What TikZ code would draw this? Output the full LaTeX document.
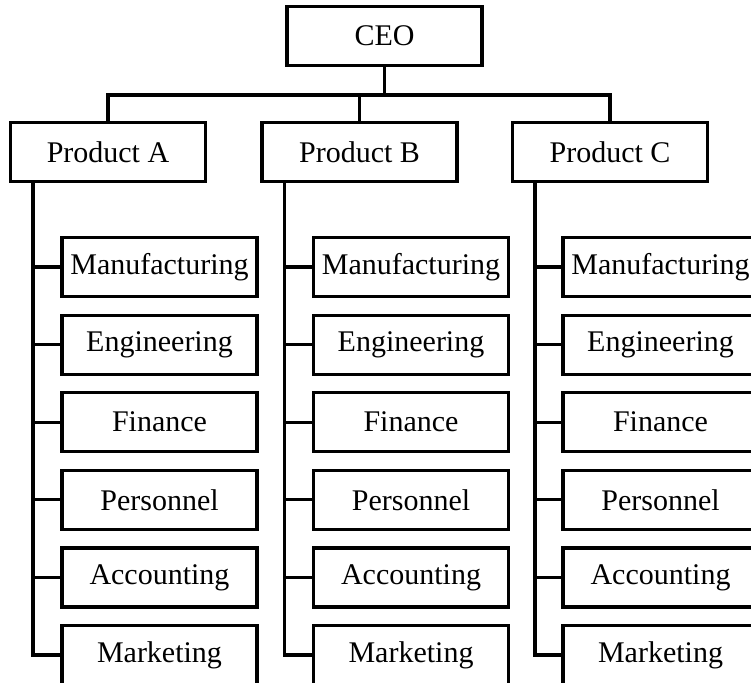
\documentclass[tikz,border=0pt]{standalone}
\usepackage{fontspec}
\setmainfont{Liberation Serif}
\usepackage{tikz}
\usetikzlibrary{positioning}

\begin{document}
\begin{tikzpicture}[inner sep=0pt,x=1pt,y=-1pt]
  \useasboundingbox(0,0)rectangle(751,682);
  \tikzstyle{v}=[rectangle,draw=black,line width=3.2pt,minimum width=195pt,minimum height=59pt,font=\fontsize{30}{35}\selectfont]
  \tikzstyle{e}=[draw=black,line width=3.2pt]
  \node[v](ceo)at(384.5,36){CEO};
  \node[v](pa)at(108,152){Product A};
  \node[v](pb)at(359.5,152){Product B};
  \node[v](pc)at(610,152){Product C};
  \foreach\p in{pa,pb,pc}{\draw[e](ceo.south)--++(0,28)-|(\p.north);}
  % the six departments under each product
  \foreach\p/\x in{a/159.5,b/411,c/660.5}{
    \foreach\n[count=\i]in{Manufacturing,Engineering,Finance,Personnel,Accounting,Marketing}{
      \node[v](\p\i)at(\x,{267+77.6*(\i-1)}){\n};}
    \coordinate(s\p)at([xshift=24pt]p\p.south west);
    \draw[e](s\p)|-(\p6.west);
    \foreach\i in{1,...,5}{\draw[e](\p\i.west)--(\p\i.west-|s\p);}
  }
\end{tikzpicture}
\end{document}
